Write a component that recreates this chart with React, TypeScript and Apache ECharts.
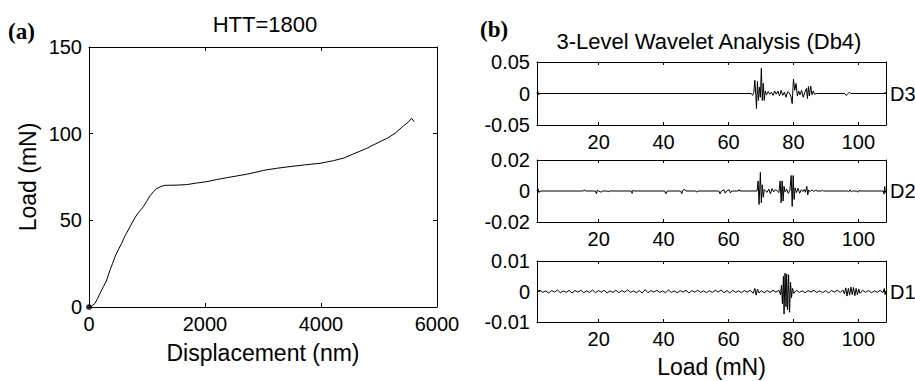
import React, { useEffect, useRef } from "react";
import * as echarts from "echarts";

// (a) load–displacement curve
const displacementNm = [0, 46, 103, 150, 190, 247, 300, 362, 405, 448, 505, 563, 620, 678, 750, 822, 880, 937, 995, 1052, 1110, 1167, 1240, 1310, 1500, 1684, 1850, 2029, 2200, 2374, 2550, 2718, 2948, 3005, 3230, 3465, 3720, 3983, 4212, 4400, 4557, 4787, 5017, 5150, 5276, 5419, 5500, 5563, 5603];
const loadMN = [0, 0.5, 2.1, 5, 7.9, 11.7, 15, 21.3, 25, 29, 33, 36.7, 41, 44.4, 49, 53.1, 55.5, 57.9, 61, 64.2, 66.5, 68.3, 69.5, 70.2, 70.3, 70.6, 71.5, 72.3, 73.5, 74.6, 75.6, 76.6, 78.3, 78.8, 80, 81, 82, 82.9, 84.4, 86, 88.3, 91.5, 95.4, 97.5, 100.2, 104.4, 106.5, 108.9, 106.9];

// (b) wavelet details [load, coefficient]
const d3 = [[1,0],[1.2,0.004],[1.5,-0.002],[1.9,0],[67,0],[67.4,-0.003],[67.8,0.002],[68.1,0.021],[68.4,-0.003],[68.6,-0.024],[68.9,0.019],[69.2,-0.011],[69.5,0.01],[69.8,-0.006],[70.1,0.04],[70.4,-0.011],[70.7,0.016],[71.0,-0.011],[71.3,0.004],[71.7,-0.002],[72.2,0.003],[72.7,-0.001],[73.2,0.002],[73.7,-0.003],[74.2,0.004],[74.7,-0.001],[75.2,0.004],[75.7,-0.004],[76.2,0.005],[76.7,-0.003],[77.2,0.002],[77.7,-0.006],[78.2,0.003],[78.7,0.001],[79.2,-0.004],[79.6,-0.016],[80.0,0.023],[80.4,0.005],[80.8,0.016],[81.2,-0.004],[81.6,0.004],[82.0,-0.002],[82.5,0.005],[83.0,-0.006],[83.5,0.002],[84.0,0.008],[84.3,-0.008],[84.6,0.011],[84.9,-0.004],[85.3,0.012],[85.7,-0.002],[86.1,0.004],[86.5,-0.001],[87.2,0],[95.8,0],[96.2,-0.003],[96.7,-0.001],[97.2,0.002],[97.7,0],[108,0],[108.2,0.002],[108.5,0]];

const d2 = [[1,0],[1.3,0.0015],[1.6,-0.001],[2,0],[15.3,0],[15.6,0.0008],[15.9,0],[19,0],[19.3,-0.0018],[19.6,0.0006],[20,0],[20.8,-0.0008],[21.1,0],[22.6,0],[22.9,-0.0006],[23.2,0],[30,0],[30.3,-0.0015],[30.6,0.0006],[30.9,0],[40.3,0],[40.7,-0.0018],[41.1,0],[45.2,0],[45.6,-0.0018],[45.9,0.0004],[46.5,0.001],[46.9,0],[49.9,0],[50.2,-0.0008],[50.5,0],[57,0],[57.4,-0.0018],[57.8,0],[58.6,0.0008],[59,-0.0014],[59.4,0],[60.2,0.0008],[60.6,-0.0012],[61,0],[63,0],[63.2,0.0008],[63.5,0],[68.8,0],[69.1,0.0065],[69.4,-0.0087],[69.8,0.012],[70.1,-0.0076],[70.4,0.004],[70.7,-0.004],[71.0,0.001],[71.4,0],[71.9,-0.0008],[72.4,0.0012],[72.9,-0.0018],[73.4,0.0015],[73.9,-0.0006],[74.4,0.0008],[75.0,0],[75.5,-0.001],[75.9,0.0065],[76.2,-0.0076],[76.5,0.0065],[76.8,-0.0065],[77.1,0.003],[77.4,-0.0006],[77.9,0.0012],[78.4,-0.0015],[78.9,0.0005],[79.3,0.01],[79.6,-0.01],[79.9,0.01],[80.2,-0.0055],[80.5,0.002],[80.9,-0.001],[81.4,0.0018],[81.9,-0.0015],[82.4,0.0008],[82.9,-0.0004],[83.3,0.001],[83.7,-0.0008],[84.1,0.003],[84.4,-0.0025],[84.7,0.0006],[85.2,-0.0004],[85.7,0.0008],[86.2,-0.0003],[86.8,0.0004],[87.3,0],[88.6,0],[88.9,0.0005],[89.2,0],[96.7,0],[97,-0.0006],[97.4,0.0008],[97.8,-0.0005],[98.2,0],[99.5,0],[99.8,-0.0008],[100.1,0.0004],[100.5,0],[107.6,0],[107.9,-0.002],[108.1,0.003],[108.3,-0.001],[108.5,0]];

const d1 = [[1,0],[1.9,0.0004],[2.8,-0.0003],[3.7,0.0002],[4.6,-0.0005],[5.5,0.0003],[6.4,-0.0002],[7.3,0.0005],[8.2,-0.0004],[9.1,0.0002],[10,-0.0003],[10.9,0.0004],[11.8,-0.0005],[12.7,0.0003],[13.6,-0.0002],[14.5,0.0004],[15.4,-0.0004],[16.3,0.0002],[17.2,-0.0003],[18.1,0.0005],[19,-0.0004],[19.9,0.0003],[20.8,-0.0002],[21.7,0.0004],[22.6,-0.0005],[23.5,0.0002],[24.4,-0.0003],[25.3,0.0004],[26.2,-0.0004],[27.1,0.0003],[28,-0.0002],[28.9,0.0005],[29.8,-0.0003],[30.7,0.0002],[31.6,-0.0004],[32.5,0.0003],[33.4,-0.0005],[34.3,0.0006],[35.2,-0.0004],[36.1,0.0003],[37,-0.0002],[37.9,0.0004],[38.8,-0.0003],[39.7,0.0002],[40.6,-0.0004],[41.5,0.0005],[42.4,-0.0003],[43.3,0.0002],[44.2,-0.0004],[45.1,0.0003],[46,-0.0002],[46.9,0.0004],[47.8,-0.0005],[48.7,0.0003],[49.6,-0.0002],[50.5,0.0004],[51.4,-0.0003],[52.3,0.0002],[53.2,-0.0004],[54.1,0.0003],[55,-0.0003],[55.9,0.0004],[56.8,-0.0002],[57.7,0.0005],[58.6,-0.0004],[59.5,0.0003],[60.4,-0.0005],[61.3,0.0004],[62.2,-0.0003],[63.1,0.0002],[64,-0.0004],[64.9,0.0003],[65.8,-0.0002],[66.7,0.0004],[67.6,-0.0006],[68.1,0.001],[68.5,-0.0012],[68.9,0.0008],[69.4,-0.0005],[70.1,0.0003],[71,-0.0004],[71.9,0.0003],[72.8,-0.0003],[73.7,0.0004],[74.6,-0.0002],[75.5,0.0004],[76.0,-0.001],[76.3,0.002],[76.6,-0.004],[76.9,0.005],[77.1,-0.0074],[77.4,0.006],[77.7,-0.005],[77.9,0.0057],[78.2,-0.006],[78.5,0.0055],[78.8,-0.0068],[79.1,0.003],[79.4,-0.002],[79.7,0.001],[80.1,-0.0006],[80.9,0.0004],[81.8,-0.0003],[82.7,0.0002],[83.6,-0.0004],[84.5,0.0003],[85.4,-0.0002],[86.3,0.0004],[87.2,-0.0003],[88.1,0.0002],[89,-0.0004],[89.9,0.0003],[90.8,-0.0005],[91.7,0.0003],[92.6,-0.0002],[93.5,0.0004],[94.4,-0.0003],[95.2,0.0005],[95.7,-0.0008],[96.1,0.0012],[96.5,-0.0015],[96.9,0.001],[97.3,-0.0012],[97.7,0.0015],[98.1,-0.001],[98.5,0.0013],[98.9,-0.0014],[99.3,0.001],[99.7,-0.0011],[100.1,0.0008],[100.5,-0.0006],[101.3,0.0004],[102.2,-0.0003],[103.1,0.0003],[104,-0.0004],[104.9,0.0002],[105.8,-0.0003],[106.7,0.0004],[107.5,-0.0004],[108,0.001],[108.2,-0.001],[108.5,0]];

const leftXTicks = [0, 2000, 4000, 6000];
const rightXTicks = [20, 40, 60, 80, 100];
const detailNames = ["D3", "D2", "D1"];
const detailRanges = [0.05, 0.02, 0.01];

const FONT = '"Liberation Sans", Arial, Helvetica, sans-serif';

export default function App() {
  const ref = useRef<HTMLDivElement>(null);
  useEffect(() => {
    if (!ref.current) return;
    const chart = echarts.init(ref.current, null, { renderer: "svg" });
    const black = "#000";
    const axisLine = { show: true, onZero: false, lineStyle: { color: black, width: 1 } };
    const tickIn = (len: number) => ({ show: true, inside: true, length: len, lineStyle: { color: black, width: 1 } });
    const plain = (v: number) => String(v);

    const grids = [
      { left: 89, top: 47, width: 348, height: 260 },
      { left: 537, top: 62, width: 349, height: 63 },
      { left: 537, top: 160, width: 349, height: 62 },
      { left: 537, top: 261, width: 349, height: 61 },
    ];

    const xAxis: any[] = [
      {
        type: "value", gridIndex: 0, min: 0, max: 6000, interval: 2000, position: "bottom",
        axisLine, axisTick: tickIn(4), splitLine: { show: false },
        axisLabel: { color: black, fontSize: 20, fontFamily: FONT, margin: 7, formatter: plain, customValues: leftXTicks },
        name: "Displacement (nm)", nameLocation: "middle", nameGap: 34,
        nameTextStyle: { color: black, fontSize: 23, fontFamily: FONT },
      },
      {
        type: "value", gridIndex: 0, min: 0, max: 6000, interval: 2000, position: "top",
        axisLine, axisTick: tickIn(4), axisLabel: { show: false }, splitLine: { show: false },
      },
    ];
    const yAxis: any[] = [
      {
        type: "value", gridIndex: 0, min: 0, max: 150, interval: 50, position: "left",
        axisLine, axisTick: tickIn(4), splitLine: { show: false },
        axisLabel: { color: black, fontSize: 20, fontFamily: FONT, margin: 7, formatter: plain },
        name: "Load (mN)", nameLocation: "middle", nameGap: 50, nameRotate: 90,
        nameTextStyle: { color: black, fontSize: 23, fontFamily: FONT },
      },
      {
        type: "value", gridIndex: 0, min: 0, max: 150, interval: 50, position: "right",
        axisLine, axisTick: tickIn(4), axisLabel: { show: false }, splitLine: { show: false },
      },
    ];
    for (let i = 0; i < 3; i++) {
      const g = i + 1;
      const r = detailRanges[i];
      const bottom: any = {
        type: "value", gridIndex: g, min: 1, max: 108.5, position: "bottom",
        axisLine, axisTick: { ...tickIn(3), customValues: rightXTicks }, splitLine: { show: false },
        axisLabel: { color: black, fontSize: 20, fontFamily: FONT, margin: 7, customValues: rightXTicks },
      };
      if (i === 2) {
        bottom.name = "Load (mN)";
        bottom.nameLocation = "middle";
        bottom.nameGap = 33;
        bottom.nameTextStyle = { color: black, fontSize: 23, fontFamily: FONT };
      }
      xAxis.push(bottom);
      xAxis.push({
        type: "value", gridIndex: g, min: 1, max: 108.5, position: "top",
        axisLine, axisTick: { ...tickIn(3), customValues: rightXTicks }, axisLabel: { show: false }, splitLine: { show: false },
      });
      yAxis.push({
        type: "value", gridIndex: g, min: -r, max: r, interval: r, position: "left",
        axisLine, axisTick: tickIn(3), splitLine: { show: false },
        axisLabel: { color: black, fontSize: 20, fontFamily: FONT, margin: 7 },
      });
      yAxis.push({
        type: "value", gridIndex: g, min: -r, max: r, interval: r, position: "right",
        axisLine, axisTick: tickIn(3), axisLabel: { show: false }, splitLine: { show: false },
      });
    }

    const details = [d3, d2, d1];
    const detailSeries = details.map((data, i) => ({
      type: "line",
      xAxisIndex: 2 + i * 2,
      yAxisIndex: 2 + i * 2,
      data,
      showSymbol: false,
      symbol: "none",
      lineStyle: { color: black, width: 1 },
      endLabel: {
        show: true, formatter: detailNames[i], color: black, fontSize: 20, fontFamily: FONT, distance: 4,
      },
    }));

    chart.setOption({
      animation: false,
      backgroundColor: "#fff",
      grid: grids,
      xAxis,
      yAxis,
      graphic: [
        { type: "text", x: 8, y: 31, style: { text: "(a)", font: 'bold 23px "Liberation Serif", "Times New Roman", serif', fill: black, textAlign: "left", textVerticalAlign: "middle" } },
        { type: "text", x: 265, y: 24, style: { text: "HTT=1800", font: `22px ${FONT}`, fill: black, textAlign: "center", textVerticalAlign: "middle" } },
        { type: "text", x: 480, y: 29, style: { text: "(b)", font: 'bold 23px "Liberation Serif", "Times New Roman", serif', fill: black, textAlign: "left", textVerticalAlign: "middle" } },
        { type: "text", x: 709, y: 41, style: { text: "3-Level Wavelet Analysis (Db4)", font: `22px ${FONT}`, fill: black, textAlign: "center", textVerticalAlign: "middle" } },
      ],
      series: [
        {
          type: "line",
          xAxisIndex: 0,
          yAxisIndex: 0,
          data: displacementNm.map((d, i) => [d, loadMN[i]]),
          showSymbol: false,
          symbol: "none",
          lineStyle: { color: black, width: 1 },
        },
        {
          type: "scatter",
          xAxisIndex: 0,
          yAxisIndex: 0,
          data: [[displacementNm[0], loadMN[0]]],
          symbolSize: 6,
          itemStyle: { color: black },
          clip: false,
        },
        ...detailSeries,
      ],
    });
    return () => chart.dispose();
  }, []);
  return (
    <div
      ref={ref}
      style={{ position: "absolute", left: 0, top: 0, width: 915, height: 381, background: "#fff" }}
    />
  );
}
